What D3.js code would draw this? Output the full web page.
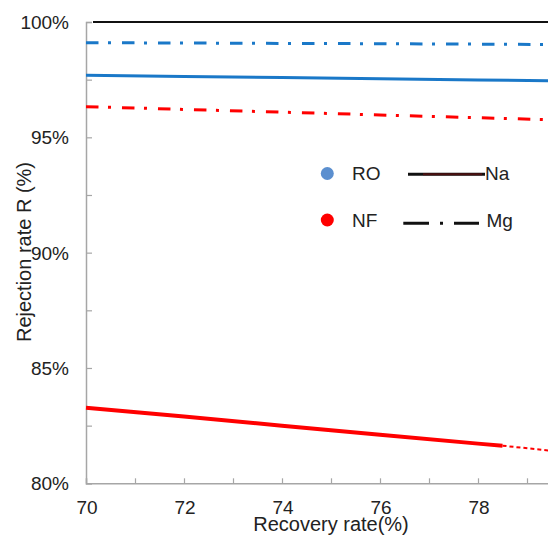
<!DOCTYPE html>
<html>
<head>
<meta charset="utf-8">
<script src="https://cdn.jsdelivr.net/npm/d3@7"></script>
<style>
  html, body { margin: 0; padding: 0; background: #fff; }
  svg { display: block; font-family: "Liberation Sans", Arial, sans-serif; }
</style>
</head>
<body>
<svg id="chart" width="548" height="537"></svg>
<script>
// ---- data ----
const recovery = [70, 72, 74, 76, 78, 80];
const RO_Mg = [99.10, 99.09, 99.07, 99.06, 99.04, 99.02];
const RO_Na = [97.69, 97.64, 97.59, 97.54, 97.49, 97.44];
const NF_Mg = [96.33, 96.21, 96.09, 95.97, 95.85, 95.73];
const NF_Na_x = [70, 72, 74, 76, 78, 78.5];
const NF_Na = [83.28, 82.90, 82.50, 82.10, 81.72, 81.63];
const NF_Na_ext_x = [78.5, 80];
const NF_Na_ext = [81.63, 81.30];
const xTickLabels = [70, 72, 74, 76, 78];
const yTickLabels = [80, 85, 90, 95, 100];
const legendMembranes = ["RO", "NF"];
const legendIons = ["Na", "Mg"];

const blue = "#1a78c8", red = "#ff0000", grey = "#a6a6a6";

const svg = d3.select("#chart");
const x = d3.scaleLinear().domain([70, 80]).range([86, 576]);
const y = d3.scaleLinear().domain([80, 100]).range([483.3, 22]);

// axes
const xAxis = d3.axisBottom(x).tickValues(d3.range(70, 81, 1)).tickSize(-5).tickFormat("");
const gx = svg.append("g").attr("transform", `translate(0,${y(80)})`).call(xAxis);
gx.select(".domain").attr("stroke", grey).attr("stroke-width", 1.5);
gx.selectAll(".tick line").attr("stroke", grey).attr("stroke-width", 1.2);

const yAxis = d3.axisLeft(y).tickValues(d3.range(80, 100.01, 2.5)).tickSize(-6).tickFormat("");
const gy = svg.append("g").attr("transform", `translate(${x(70)},0)`).call(yAxis);
gy.select(".domain").attr("stroke", grey).attr("stroke-width", 1.5);
gy.selectAll(".tick line").attr("stroke", grey).attr("stroke-width", 1.2);

// top frame line
svg.append("line").attr("x1", 93).attr("x2", x(80)).attr("y1", y(100)).attr("y2", y(100))
  .attr("stroke", "#111").attr("stroke-width", 2);

// tick labels
svg.append("g").selectAll("text").data(xTickLabels).join("text")
  .attr("x", d => x(d) + 1).attr("y", 514).attr("text-anchor", "middle")
  .attr("font-size", 19).attr("fill", "#222").text(d => d);
svg.append("g").selectAll("text").data(yTickLabels).join("text")
  .attr("x", 69).attr("y", d => y(d) + 7).attr("text-anchor", "end")
  .attr("font-size", 19).attr("fill", "#222").text(d => d + "%");

// axis titles
svg.append("text").attr("x", 331).attr("y", 531).attr("text-anchor", "middle")
  .attr("font-size", 20).attr("fill", "#222").text("Recovery rate(%)");
svg.append("text").attr("transform", "translate(31,252) rotate(-90)").attr("text-anchor", "middle")
  .attr("font-size", 20).attr("fill", "#222").text("Rejection rate R (%)");

// lines
const line = d3.line().x(d => x(d[0])).y(d => y(d[1]));
const zip = (a, b) => a.map((v, i) => [v, b[i]]);
const dashDot = "12.5,9.5,3,11";

svg.append("path").datum(zip(recovery, RO_Mg)).attr("d", line)
  .attr("fill", "none").attr("stroke", blue).attr("stroke-width", 3).attr("stroke-dasharray", dashDot);
svg.append("path").datum(zip(recovery, RO_Na)).attr("d", line)
  .attr("fill", "none").attr("stroke", blue).attr("stroke-width", 3);
svg.append("path").datum(zip(recovery, NF_Mg)).attr("d", line)
  .attr("fill", "none").attr("stroke", red).attr("stroke-width", 3).attr("stroke-dasharray", dashDot);
svg.append("path").datum(zip(NF_Na_x, NF_Na)).attr("d", line)
  .attr("fill", "none").attr("stroke", red).attr("stroke-width", 4);
svg.append("path").datum(zip(NF_Na_ext_x, NF_Na_ext)).attr("d", line)
  .attr("fill", "none").attr("stroke", red).attr("stroke-width", 2).attr("stroke-dasharray", "4,3");

// legend
const legColors = [ "#5b8fcf", red ];
const legY = [173.5, 220];
legendMembranes.forEach((m, i) => {
  svg.append("circle").attr("cx", 327.3).attr("cy", legY[i]).attr("r", 6.5).attr("fill", legColors[i]);
  svg.append("text").attr("x", 352).attr("y", legY[i] + 6.5).attr("font-size", 19).attr("fill", "#222").text(m);
});
// Na legend line
svg.append("line").attr("x1", 408).attr("x2", 485).attr("y1", 174.3).attr("y2", 174.3)
  .attr("stroke", "#111").attr("stroke-width", 3);
svg.append("line").attr("x1", 423).attr("x2", 482).attr("y1", 174.3).attr("y2", 174.3)
  .attr("stroke", "#4a0f0f").attr("stroke-width", 2);
// Mg legend line
svg.append("line").attr("x1", 403.3).attr("x2", 479).attr("y1", 223.3).attr("y2", 223.3)
  .attr("stroke", "#111").attr("stroke-width", 3).attr("stroke-dasharray", "25.7,11,3,11,25");
legendIons.forEach((ion, i) => {
  svg.append("text").attr("x", i === 0 ? 485 : 486.5).attr("y", legY[i] + 6.5)
    .attr("font-size", 19).attr("fill", "#222").text(ion);
});
</script>
</body>
</html>
